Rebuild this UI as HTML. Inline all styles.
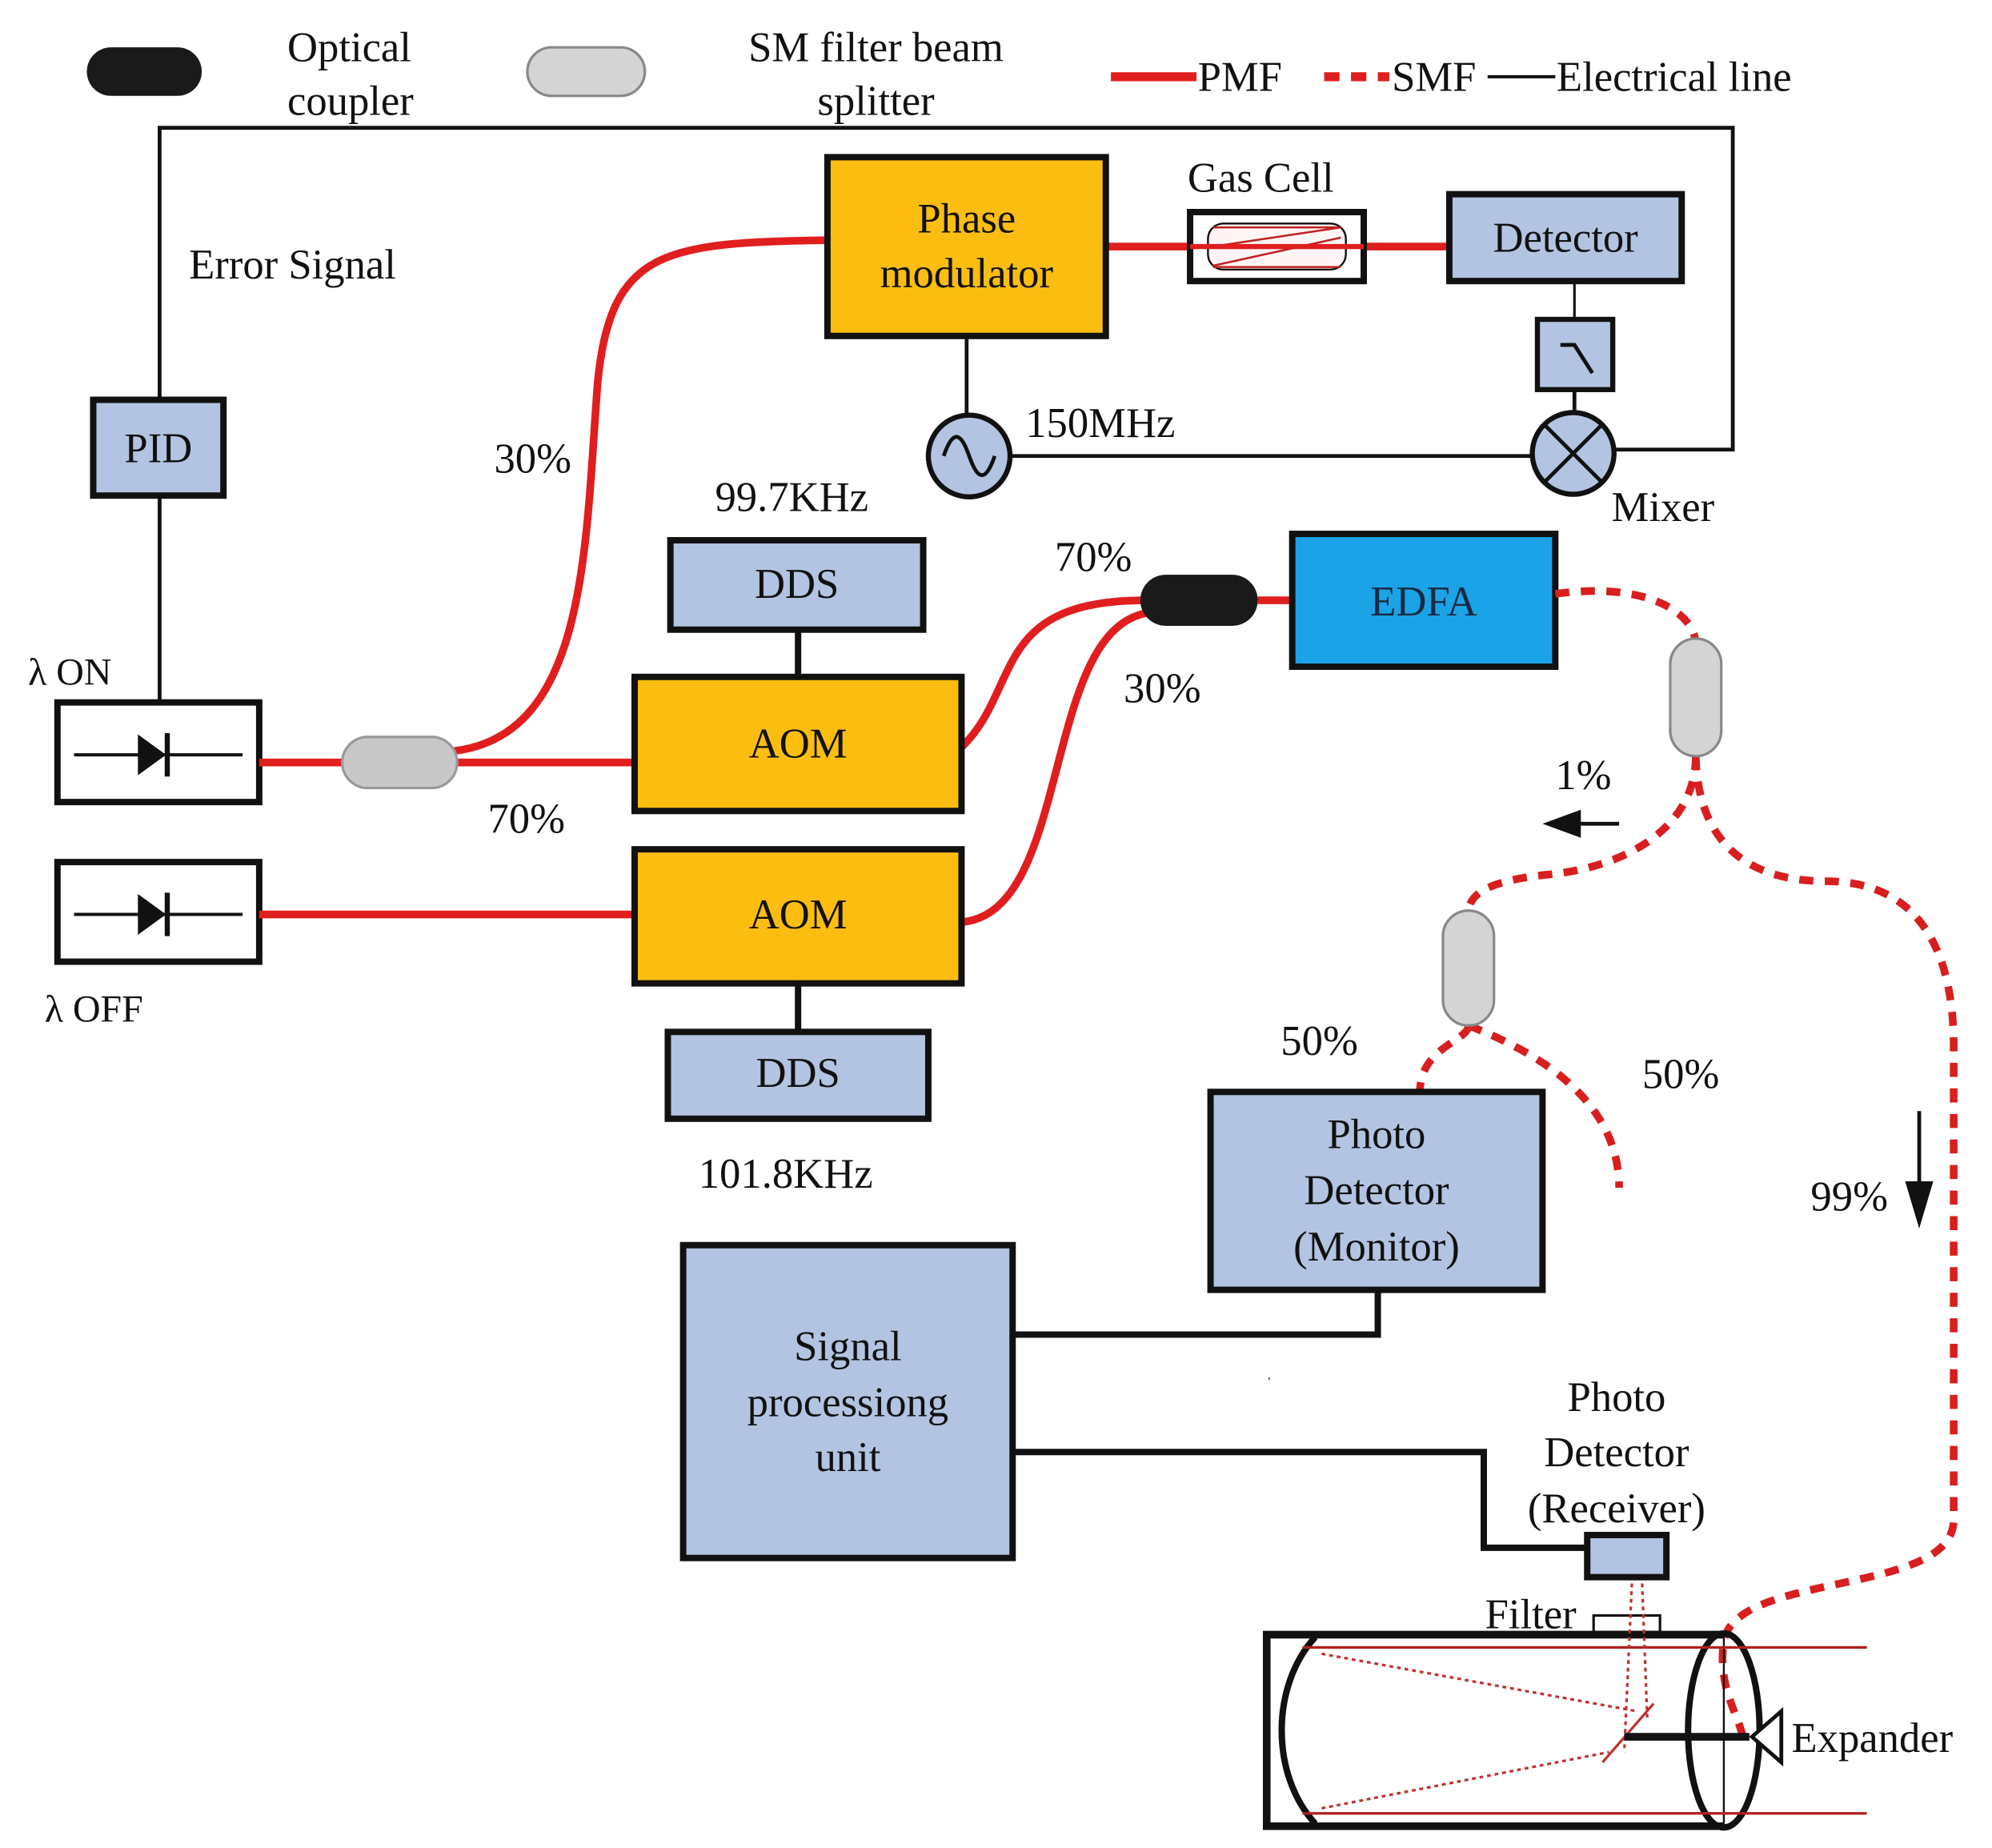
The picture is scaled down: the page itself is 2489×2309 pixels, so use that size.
<!DOCTYPE html>
<html><head><meta charset="utf-8"><style>
html,body{margin:0;padding:0;background:#fff;}
svg{display:block;}
text{font-family:"Liberation Serif",serif;font-size:33px;fill:#111;}
</style></head><body>
<svg width="2489" height="2309" viewBox="0 0 1560 1447" xmlns="http://www.w3.org/2000/svg">
<rect width="1560" height="1447" fill="#fff"/>
<!-- Legend -->
<rect x="68" y="37" width="90" height="38" rx="19" fill="#1a1a1a"/>
<text x="225" y="48">Optical</text><text x="225" y="90">coupler</text>
<rect x="413" y="37" width="92" height="38" rx="19" fill="#d4d4d4" stroke="#888" stroke-width="2"/>
<text x="686" y="48" text-anchor="middle">SM filter beam</text><text x="686" y="90" text-anchor="middle">splitter</text>
<line x1="870" y1="60" x2="937" y2="60" stroke="#e01e1e" stroke-width="7"/>
<text x="938" y="71">PMF</text>
<line x1="1037" y1="60" x2="1088" y2="60" stroke="#e01e1e" stroke-width="7" stroke-dasharray="12,9"/>
<text x="1090" y="71">SMF</text>
<line x1="1165" y1="60" x2="1218" y2="60" stroke="#111" stroke-width="2.5"/>
<text x="1219" y="71">Electrical line</text>

<!-- electrical loop -->
<polyline points="125,312 125,100 1357,100 1357,352 1262,352" fill="none" stroke="#111" stroke-width="3"/>
<text x="148" y="218">Error Signal</text>
<rect x="73" y="313" width="102" height="75" fill="#b3c4e2" stroke="#111" stroke-width="5"/>
<text x="124" y="362" text-anchor="middle">PID</text>
<line x1="125" y1="388" x2="125" y2="550" stroke="#111" stroke-width="3"/>

<!-- diodes -->
<text x="22" y="536" style="font-size:30px">λ ON</text>
<rect x="45" y="550" width="158" height="78" fill="#fff" stroke="#111" stroke-width="5"/>
<line x1="58" y1="591" x2="190" y2="591" stroke="#111" stroke-width="2.5"/>
<polygon points="108,575 108,607 130,591" fill="#111"/><line x1="131" y1="574" x2="131" y2="608" stroke="#111" stroke-width="4"/>
<rect x="45" y="675" width="158" height="78" fill="#fff" stroke="#111" stroke-width="5"/>
<line x1="58" y1="716" x2="190" y2="716" stroke="#111" stroke-width="2.5"/>
<polygon points="108,700 108,732 130,716" fill="#111"/><line x1="131" y1="699" x2="131" y2="733" stroke="#111" stroke-width="4"/>
<text x="35" y="800" style="font-size:30px">λ OFF</text>

<!-- red PMF lines -->
<g fill="none" stroke="#e01e1e" stroke-width="6">
<line x1="203" y1="597" x2="270" y2="597"/>
<line x1="358" y1="597" x2="497" y2="597"/>
<path d="M356,588 C460,575 458,430 468,300 C478,195 520,190 648,188"/>
<line x1="866" y1="193" x2="1135" y2="193"/>
<line x1="203" y1="716" x2="497" y2="716"/>
<path d="M753,585 C800,540 775,470 897,470"/>
<path d="M753,722 C840,715 815,495 898,480"/>
<line x1="985" y1="470" x2="1012" y2="470"/>
</g>
<rect x="268" y="577" width="90" height="40" rx="20" fill="#c8c8c8" stroke="#999" stroke-width="2"/>
<text x="387" y="370">30%</text>
<text x="382" y="652">70%</text>

<!-- Phase modulator -->
<rect x="648" y="123" width="218" height="140" fill="#fbbd10" stroke="#111" stroke-width="5"/>
<text x="757" y="182" text-anchor="middle">Phase</text><text x="757" y="225" text-anchor="middle">modulator</text>
<!-- gas cell -->
<text x="930" y="150">Gas Cell</text>
<rect x="932" y="166" width="136" height="54" fill="#fff" stroke="#111" stroke-width="5"/>
<rect x="946" y="175" width="108" height="36" rx="12" fill="#fff5f5" stroke="#111" stroke-width="1.5"/>
<g stroke="#c02020" stroke-width="1.6"><line x1="950" y1="193" x2="1050" y2="178"/><line x1="950" y1="208" x2="1050" y2="186"/><line x1="950" y1="178" x2="1050" y2="178"/><line x1="950" y1="209" x2="1050" y2="209"/></g>
<line x1="932" y1="193" x2="1068" y2="193" stroke="#e01e1e" stroke-width="4"/>
<!-- detector -->
<rect x="1135" y="152" width="182" height="68" fill="#b3c4e2" stroke="#111" stroke-width="5"/>
<text x="1226" y="197" text-anchor="middle">Detector</text>
<line x1="1233" y1="220" x2="1233" y2="250" stroke="#111" stroke-width="2"/>
<rect x="1204" y="250" width="59" height="55" fill="#b3c4e2" stroke="#111" stroke-width="4"/>
<polyline points="1222,270 1233,270 1247,292" fill="none" stroke="#111" stroke-width="3"/>
<line x1="1233" y1="305" x2="1233" y2="324" stroke="#111" stroke-width="3"/>
<circle cx="1232" cy="355" r="32" fill="#b3c4e2" stroke="#111" stroke-width="4"/>
<line x1="1210" y1="333" x2="1254" y2="377" stroke="#111" stroke-width="3"/><line x1="1254" y1="333" x2="1210" y2="377" stroke="#111" stroke-width="3"/>
<text x="1262" y="408">Mixer</text>
<!-- oscillator -->
<line x1="757" y1="263" x2="757" y2="325" stroke="#111" stroke-width="3"/>
<line x1="791" y1="357" x2="1200" y2="357" stroke="#111" stroke-width="3"/>
<circle cx="759" cy="357" r="32" fill="#b3c4e2" stroke="#111" stroke-width="4"/>
<path d="M739,357 C746,337 752,337 759,357 C766,377 772,377 779,357" fill="none" stroke="#111" stroke-width="3"/>
<text x="803" y="342">150MHz</text>

<!-- DDS/AOM -->
<text x="560" y="400">99.7KHz</text>
<rect x="525" y="423" width="198" height="70" fill="#b3c4e2" stroke="#111" stroke-width="5"/>
<text x="624" y="468" text-anchor="middle">DDS</text>
<line x1="625" y1="493" x2="625" y2="530" stroke="#111" stroke-width="5"/>
<rect x="497" y="530" width="256" height="105" fill="#fbbd10" stroke="#111" stroke-width="5"/>
<text x="625" y="593" text-anchor="middle">AOM</text>
<rect x="497" y="665" width="256" height="105" fill="#fbbd10" stroke="#111" stroke-width="5"/>
<text x="625" y="727" text-anchor="middle">AOM</text>
<line x1="625" y1="770" x2="625" y2="808" stroke="#111" stroke-width="5"/>
<rect x="523" y="808" width="204" height="68" fill="#b3c4e2" stroke="#111" stroke-width="5"/>
<text x="625" y="851" text-anchor="middle">DDS</text>
<text x="547" y="930">101.8KHz</text>

<text x="826" y="447">70%</text>
<text x="880" y="550">30%</text>
<rect x="893" y="450" width="92" height="40" rx="20" fill="#1a1a1a"/>
<rect x="1012" y="418" width="206" height="104" fill="#1ba3e8" stroke="#111" stroke-width="5"/>
<text x="1115" y="482" text-anchor="middle" style="fill:#1a2a40">EDFA</text>

<!-- SMF dashed -->
<g fill="none" stroke="#d81e1e" stroke-width="6" stroke-dasharray="11,9">
<path d="M1218,465 C1290,455 1328,480 1328,505"/>
<path d="M1328,592 C1328,650 1270,680 1210,685 C1165,690 1150,700 1150,715"/>
<path d="M1328,592 C1330,670 1380,690 1430,690 C1500,690 1530,740 1530,820 L1530,1190 C1530,1250 1360,1230 1350,1285 C1345,1320 1360,1340 1365,1360"/>
<path d="M1150,803 C1150,815 1112,820 1112,855"/>
<path d="M1150,803 C1180,815 1268,850 1268,930"/>
</g>
<rect x="1308" y="500" width="40" height="92" rx="20" fill="#d4d4d4" stroke="#888" stroke-width="2"/>
<rect x="1130" y="713" width="40" height="90" rx="20" fill="#d4d4d4" stroke="#888" stroke-width="2"/>
<text x="1218" y="618">1%</text>
<line x1="1232" y1="645" x2="1268" y2="645" stroke="#111" stroke-width="3"/><polygon points="1208,645 1238,634 1238,656" fill="#111"/>
<text x="1003" y="826">50%</text>
<text x="1286" y="852">50%</text>
<text x="1418" y="948">99%</text>
<line x1="1503" y1="870" x2="1503" y2="935" stroke="#111" stroke-width="3"/><polygon points="1492,925 1514,925 1503,962" fill="#111"/>

<!-- PD monitor -->
<rect x="948" y="855" width="260" height="155" fill="#b3c4e2" stroke="#111" stroke-width="5"/>
<text x="1078" y="899" text-anchor="middle">Photo</text><text x="1078" y="943" text-anchor="middle">Detector</text><text x="1078" y="987" text-anchor="middle">(Monitor)</text>
<!-- SPU -->
<rect x="535" y="975" width="258" height="245" fill="#b3c4e2" stroke="#111" stroke-width="5"/>
<text x="664" y="1065" text-anchor="middle">Signal</text><text x="664" y="1109" text-anchor="middle">processiong</text><text x="664" y="1152" text-anchor="middle">unit</text>
<polyline points="793,1045 1079,1045 1079,1010" fill="none" stroke="#111" stroke-width="5"/>
<polyline points="793,1137 1162,1137 1162,1212 1243,1212" fill="none" stroke="#111" stroke-width="5"/>
<rect x="1243" y="1202" width="62" height="33" fill="#b3c4e2" stroke="#111" stroke-width="5"/>
<text x="1266" y="1105" text-anchor="middle">Photo</text><text x="1266" y="1148" text-anchor="middle">Detector</text><text x="1266" y="1192" text-anchor="middle">(Receiver)</text>

<!-- telescope -->
<text x="1163" y="1275">Filter</text>
<rect x="1248" y="1265" width="52" height="13" fill="#fff" stroke="#111" stroke-width="2"/>
<polyline points="1350,1280 992,1280 992,1430 1350,1430" fill="none" stroke="#111" stroke-width="6"/>
<path d="M1030,1282 C995,1320 995,1390 1030,1428" fill="none" stroke="#111" stroke-width="5"/>
<ellipse cx="1350" cy="1355" rx="28" ry="76" fill="none" stroke="#111" stroke-width="5"/>
<line x1="1350" y1="1280" x2="1350" y2="1430" stroke="#111" stroke-width="1.5"/>
<line x1="1020" y1="1290" x2="1462" y2="1290" stroke="#b02020" stroke-width="2"/>
<line x1="1020" y1="1420" x2="1462" y2="1420" stroke="#b02020" stroke-width="2"/>
<g stroke="#c03030" stroke-width="2" stroke-dasharray="3,3" fill="none">
<line x1="1035" y1="1295" x2="1282" y2="1340"/>
<line x1="1035" y1="1416" x2="1260" y2="1372"/>
<line x1="1278" y1="1240" x2="1272" y2="1372"/>
<line x1="1286" y1="1240" x2="1290" y2="1345"/>
</g>
<line x1="1255" y1="1380" x2="1295" y2="1334" stroke="#c03030" stroke-width="2"/>
<line x1="1272" y1="1360" x2="1370" y2="1360" stroke="#111" stroke-width="6"/>
<polygon points="1372,1360 1395,1340 1395,1380" fill="#fff" stroke="#111" stroke-width="3"/>
<text x="1403" y="1372">Expander</text>
<text x="993" y="1085" style="font-size:10px">'</text>
</svg>
</body></html>
